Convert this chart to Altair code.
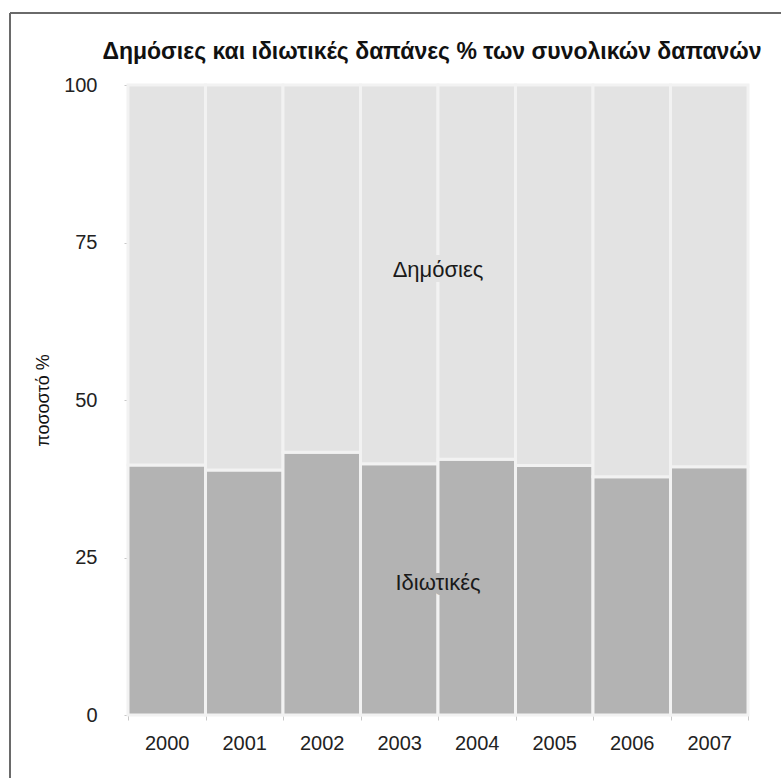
import altair as alt
import pandas as pd

# Share of total spending (%) by sector and year
years = [2000, 2001, 2002, 2003, 2004, 2005, 2006, 2007]
private_share = [39.7, 38.9, 41.7, 39.9, 40.6, 39.6, 37.8, 39.4]
public_share = [round(100 - p, 1) for p in private_share]

sector_private = "Ιδιωτικές"
sector_public = "Δημόσιες"
chart_title = "Δημόσιες και ιδιωτικές δαπάνες % των συνολικών δαπανών"

rows = []
for y, pr, pu in zip(years, private_share, public_share):
    rows.append({"year": y, "sector": sector_private, "start": 0, "end": pr})
    rows.append({"year": y, "sector": sector_public, "start": pr, "end": 100})
df = pd.DataFrame(rows)

# In-plot sector labels, centred on the boundary between 2003 and 2004
labels = pd.DataFrame({
    "year": [2004, 2004],
    "value": [70.6, 21.0],
    "text": [sector_public, sector_private],
    "bg": ["#e3e3e3", "#b3b3b3"],
})

FONT = "Liberation Sans"
W, H = 620, 630

x_scale = alt.Scale(paddingInner=0, paddingOuter=0)
y_scale = alt.Scale(domain=[0, 100])

bars = alt.Chart(df).mark_bar(stroke="#f2f2f2", strokeWidth=3).encode(
    x=alt.X("year:O", scale=x_scale, title=None,
            axis=alt.Axis(labelAngle=0, tickBand="extent", domain=False,
                          ticks=True, tickSize=5, tickColor="#c8c8c8",
                          labelPadding=13, labelFontSize=20, labelColor="#222",
                          labelFont=FONT)),
    y=alt.Y("start:Q", scale=y_scale, title="ποσοστό %",
            axis=alt.Axis(values=[0, 25, 50, 75, 100], grid=False, domain=False,
                          tickSize=4, tickColor="#c8c8c8", labelPadding=27,
                          labelFontSize=20, labelColor="#222", labelFont=FONT,
                          titleFontSize=18, titleFontWeight="normal",
                          titleColor="#111", titleFont=FONT, titlePadding=11)),
    y2="end:Q",
    color=alt.Color("sector:N",
                    scale=alt.Scale(domain=[sector_private, sector_public],
                                    range=["#b3b3b3", "#e3e3e3"]),
                    legend=None),
)

label_x = alt.X("year:O", scale=x_scale, bandPosition=0)

label_bg = alt.Chart(labels).mark_text(
    font=FONT, fontSize=22, strokeWidth=10
).encode(
    x=label_x,
    y=alt.Y("value:Q", scale=y_scale),
    text="text:N",
    color=alt.Color("bg:N", scale=None),
    stroke=alt.Stroke("bg:N", scale=None),
)

label_fg = alt.Chart(labels).mark_text(
    font=FONT, fontSize=22, color="#1a1a1a"
).encode(
    x=label_x,
    y=alt.Y("value:Q", scale=y_scale),
    text="text:N",
)

one = pd.DataFrame({"k": [0]})

# Chart heading, drawn as a text mark above the plot area
heading = alt.Chart(one).mark_text(
    text=chart_title, font=FONT, fontSize=23, fontWeight="bold",
    color="#111", align="center", baseline="middle"
).encode(x=alt.value(W / 2 - 6), y=alt.value(-33))

# Frame lines along the left and top edges of the figure
frame_left = alt.Chart(one).mark_rule(
    color="#6a6a6a", strokeWidth=2
).encode(x=alt.value(-118), y=alt.value(-72), y2=alt.value(H + 80))
frame_top = alt.Chart(one).mark_rule(
    color="#6a6a6a", strokeWidth=2
).encode(x=alt.value(-118), x2=alt.value(W + 40), y=alt.value(-72))

chart = alt.layer(bars, label_bg, label_fg, heading, frame_left, frame_top).properties(
    width=W,
    height=H,
    autosize=alt.AutoSizeParams(type="none"),
    padding={"left": 128, "top": 85, "right": 33, "bottom": 63},
).configure_view(stroke=None).configure(background="white")

chart.save("out.html", embed_options={"renderer": "svg", "actions": False})
